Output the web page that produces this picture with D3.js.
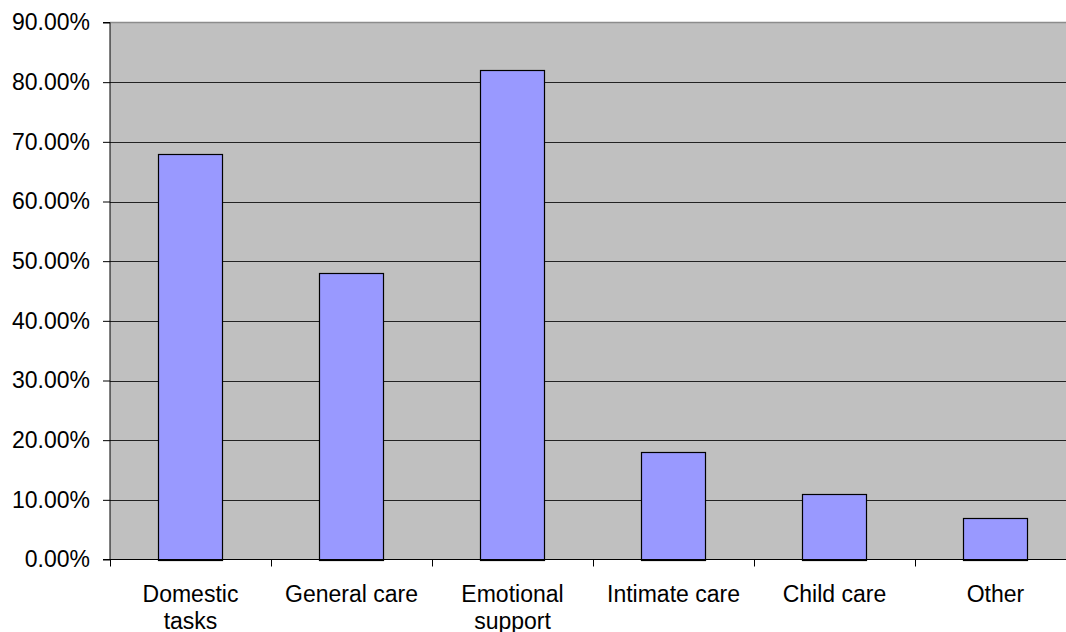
<!DOCTYPE html>
<html>
<head>
<meta charset="utf-8">
<script src="https://cdn.jsdelivr.net/npm/d3@7"></script>
<style>
  html, body { margin: 0; padding: 0; background: #fff; }
  svg { display: block; }
  text { font-family: "Liberation Sans", Arial, sans-serif; fill: #000; }
</style>
</head>
<body>
<svg id="chart" width="1066" height="632"></svg>
<script>
// Share of respondents providing each kind of help (%)
const categories = ["Domestic tasks", "General care", "Emotional support", "Intimate care", "Child care", "Other"];
const categoryLines = [["Domestic", "tasks"], ["General care"], ["Emotional", "support"], ["Intimate care"], ["Child care"], ["Other"]];
const values = [68, 48, 82, 18, 11, 7];
const yTicks = [0, 10, 20, 30, 40, 50, 60, 70, 80, 90];

const svg = d3.select("#chart");
const plot = { left: 110, right: 1076, top: 22.5, bottom: 559.5 };

const x = d3.scaleBand()
  .domain(categories)
  .range([plot.left, plot.right])
  .paddingInner(0.6)
  .paddingOuter(0.3);

const y = d3.scaleLinear()
  .domain([0, 90])
  .range([plot.bottom, plot.top]);

// plot background
svg.append("rect")
  .attr("x", plot.left).attr("y", plot.top)
  .attr("width", plot.right - plot.left).attr("height", plot.bottom - plot.top)
  .attr("fill", "#c0c0c0");

// top border of plot area
svg.append("line")
  .attr("x1", plot.left).attr("x2", plot.right)
  .attr("y1", plot.top).attr("y2", plot.top)
  .attr("stroke", "#8c8c8c").attr("stroke-width", 1.5);

// horizontal gridlines
svg.append("g").selectAll("line")
  .data(yTicks.filter(d => d > 0 && d < 90))
  .join("line")
  .attr("x1", plot.left).attr("x2", plot.right)
  .attr("y1", d => Math.round(y(d)) + 0.5).attr("y2", d => Math.round(y(d)) + 0.5)
  .attr("stroke", "#222").attr("stroke-width", 1);

// bars
svg.append("g").selectAll("rect")
  .data(values)
  .join("rect")
  .attr("x", (d, i) => Math.round(x(categories[i])) + 0.5)
  .attr("y", d => Math.round(y(d)) + 0.5)
  .attr("width", Math.round(x.bandwidth()))
  .attr("height", d => Math.round(y(0)) - Math.round(y(d)))
  .attr("fill", "#9999ff")
  .attr("stroke", "#000").attr("stroke-width", 1.2);

// y axis
const yAxis = d3.axisLeft(y)
  .tickValues(yTicks)
  .tickSize(7)
  .tickPadding(13)
  .tickFormat(d => d.toFixed(2) + "%");

const gy = svg.append("g")
  .attr("transform", `translate(${plot.left},0)`)
  .call(yAxis);
gy.select(".domain").attr("stroke", "#000").attr("d", `M-7,${plot.top}H0V${plot.bottom}`);
gy.selectAll(".tick line").attr("stroke", "#000");
gy.selectAll(".tick text")
  .attr("font-size", 23)
  .attr("font-family", "Liberation Sans, Arial, sans-serif")
  .attr("fill", "#000");

// x axis baseline and boundary ticks
const boundaries = categories.map(c => x(c) - x.step() * x.paddingInner() / 2 - (x(c) === x(categories[0]) ? x.step() * (x.paddingOuter() - x.paddingInner() / 2) : 0));
const gx = svg.append("g");
gx.append("line")
  .attr("x1", plot.left - 7).attr("x2", plot.right)
  .attr("y1", plot.bottom).attr("y2", plot.bottom)
  .attr("stroke", "#000").attr("stroke-width", 1.2);
gx.selectAll("line.tick")
  .data(d3.range(categories.length + 1))
  .join("line")
  .attr("class", "tick")
  .attr("x1", i => Math.round(plot.left + i * x.step()) + 0.5)
  .attr("x2", i => Math.round(plot.left + i * x.step()) + 0.5)
  .attr("y1", plot.bottom).attr("y2", plot.bottom + 7)
  .attr("stroke", "#000");

// category labels
const labels = gx.selectAll("text.cat")
  .data(categories)
  .join("text")
  .attr("class", "cat")
  .attr("text-anchor", "middle")
  .attr("font-size", 23)
  .attr("x", c => x(c) + x.bandwidth() / 2)
  .attr("y", 602);
labels.selectAll("tspan")
  .data((c, i) => categoryLines[i])
  .join("tspan")
  .attr("x", function () { return d3.select(this.parentNode).attr("x"); })
  .attr("dy", (d, j) => j === 0 ? 0 : 27)
  .text(d => d);
</script>
</body>
</html>
